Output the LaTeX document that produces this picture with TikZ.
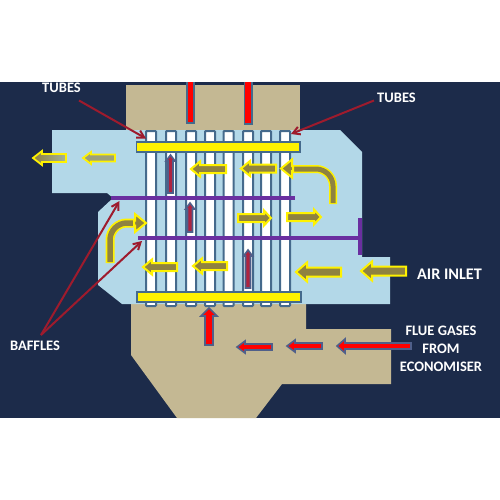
\documentclass[tikz,border=0pt]{standalone}
\usepackage{fontspec}
\setmainfont{Carlito}
\usetikzlibrary{arrows.meta}
\definecolor{navy}{HTML}{1C2B4A}
\definecolor{tanbg}{HTML}{C4B893}
\definecolor{skyb}{HTML}{B3D8E8}
\definecolor{edgeb}{HTML}{456A8C}
\definecolor{purp}{HTML}{6A2FA0}
\definecolor{olive}{HTML}{8F8240}
\definecolor{leader}{HTML}{9E1B2D}
\definecolor{crim}{HTML}{AE2340}
\definecolor{slateb}{HTML}{4F5F8A}
\tikzset{
  tube/.style={draw=edgeb,line width=2pt,fill=white,rounded corners=0.8pt},
  plate/.style={draw=edgeb,line width=1.8pt,fill=yellow},
  baffle/.style={draw=purp,line width=3.5pt},
  airarrow/.style={draw=yellow,line width=2pt,fill=olive,miter limit=4},
  gasarrow/.style={draw=slateb,line width=1.6pt,fill=red},
  innerarrow/.style={draw=slateb,line width=1.6pt,fill=crim},
  leaderline/.style={draw=leader,line width=2pt,-{Straight Barb[length=7pt,width=8pt]}},
  label/.style={text=white,font=\bfseries\fontsize{14.5}{18}\selectfont,align=center,inner sep=0pt}
}
% style, x, y, angle, length, shaft half width, head half width, head length
\newcommand{\flowarrow}[8]{%
  \begin{scope}[shift={(#2,#3)},rotate=#4]
    \path[#1] (0,-#6) -- ({#5-#8},-#6) -- ({#5-#8},-#7) -- (#5,0) -- ({#5-#8},#7) -- ({#5-#8},#6) -- (0,#6) -- cycle;
  \end{scope}}
\begin{document}
\begin{tikzpicture}[x=1pt,y=-1pt]
\useasboundingbox (0,0) rectangle (500,500);
\fill[white] (0,0) rectangle (500,500);
\fill[navy] (0,82) rectangle (500,418);
% gas casing
\fill[tanbg] (126,85.5) rectangle (300,131);
\fill[tanbg] (131,304) -- (131,355) -- (177,418) -- (256,418) -- (282,384) -- (391,384) -- (391,329) -- (306,329) -- (306,304) -- cycle;
% air casing
\fill[skyb] (52,130) -- (340,130) -- (362,152) -- (362,257) -- (390,257) -- (390,304) -- (122,304) -- (98,285) -- (98,212) -- (113,198) -- (107,193) -- (52,193) -- cycle;
% tubes
\foreach \tx in {151,171,191,210,228.5,248,266,285}
  \draw[tube] ({\tx-5},131) rectangle ({\tx+5},306);
% tube plates
\draw[plate] (136.5,142) rectangle (300,152);
\draw[plate] (137,292) rectangle (301,302);
% baffles
\draw[baffle] (111,198) -- (295,198);
\draw[baffle] (138,238) -- (360,238);
\draw[draw=purp,line width=4pt] (360,218) -- (360,255);
% gas arrows into the top
\draw[draw=edgeb,line width=1.5pt,fill=red] (187,82) -- (187,123) -- (194,123) -- (194,82);
\draw[draw=edgeb,line width=1.5pt,fill=red] (244.5,82) -- (244.5,124) -- (252,124) -- (252,82);
% air arrows
\flowarrow{draw=yellow,line width=1.8pt,left color=olive,right color=olive!45!skyb}{66}{158}{180}{33}{4}{7}{9}
\flowarrow{draw=yellow,line width=1.8pt,fill=olive!65!skyb}{115}{158}{180}{32}{3.5}{6}{8}
\flowarrow{airarrow}{226}{169}{180}{35}{4}{7.5}{9}
\flowarrow{airarrow}{276}{168.5}{180}{35}{4}{7.5}{9}
\flowarrow{airarrow}{238}{218}{0}{33}{4}{7.5}{7}
\flowarrow{airarrow}{287}{217}{0}{34}{4}{7.5}{7}
\flowarrow{airarrow}{177}{267}{180}{34}{4}{7.5}{9}
\flowarrow{airarrow}{227}{266}{180}{34}{4}{7.5}{9}
\flowarrow{airarrow}{341}{272}{180}{45}{4.5}{9.5}{11}
\flowarrow{airarrow}{406}{271}{180}{45}{4.5}{9.5}{11}
% curved air arrows
\draw[yellow,line width=8pt] (333,204) -- (333,186) .. controls (333,176.6) and (325.4,169) .. (316,169) -- (291,169);
\draw[olive,line width=5pt] (333,203) -- (333,186) .. controls (333,176.6) and (325.4,169) .. (316,169) -- (291,169);
\flowarrow{airarrow}{293}{168.5}{180}{12}{2.5}{9}{11}
\draw[yellow,line width=9pt] (110,263) -- (110,240) .. controls (110,230.6) and (117.6,223) .. (127,223) -- (135,223);
\draw[olive,line width=5.5pt] (110,262) -- (110,240) .. controls (110,230.6) and (117.6,223) .. (127,223) -- (135,223);
\flowarrow{airarrow}{134}{223}{0}{12}{2.5}{9}{11}
% inner arrows
\flowarrow{innerarrow}{170.5}{193}{90}{38}{2.5}{4.5}{6}
\flowarrow{innerarrow}{190}{232}{90}{29}{2.5}{4.5}{6}
\flowarrow{innerarrow}{248}{288}{90}{38}{2.5}{4.5}{6}
% flue gas arrows
\flowarrow{gasarrow}{209}{345}{90}{37}{4}{8}{8}
\flowarrow{gasarrow}{272}{347}{180}{35}{3}{6}{8}
\flowarrow{gasarrow}{322}{346}{180}{35}{3}{6}{8}
\flowarrow{gasarrow}{411}{346}{180}{74}{3}{7}{8}
% labels
\node[label] (tubesA) at (61.5,87.5) {TUBES};
\node[label] (tubesB) at (396.5,98) {TUBES};
\node[label] (bafflesL) at (35,346) {BAFFLES};
\node[label,font=\bfseries\fontsize{16.2}{18}\selectfont] (airL) at (449.5,274) {AIR INLET};
\node[label] (flueL) at (441,349) {FLUE GASES\\FROM\\ECONOMISER};
% leaders
\coordinate (aS) at (79,100.5);
\coordinate (aE) at (146,138.5);
\coordinate (bS) at (374,100.5);
\coordinate (bE) at (291,134);
\coordinate (cS) at (41,335);
\coordinate (cE) at (119.5,201);
\coordinate (dE) at (142,241);
\draw[leaderline] (aS) -- (aE);
\draw[leaderline] (bS) -- (bE);
\draw[leaderline] (cS) -- (cE);
\draw[leaderline] (cS) -- (dE);
\end{tikzpicture}
\end{document}
